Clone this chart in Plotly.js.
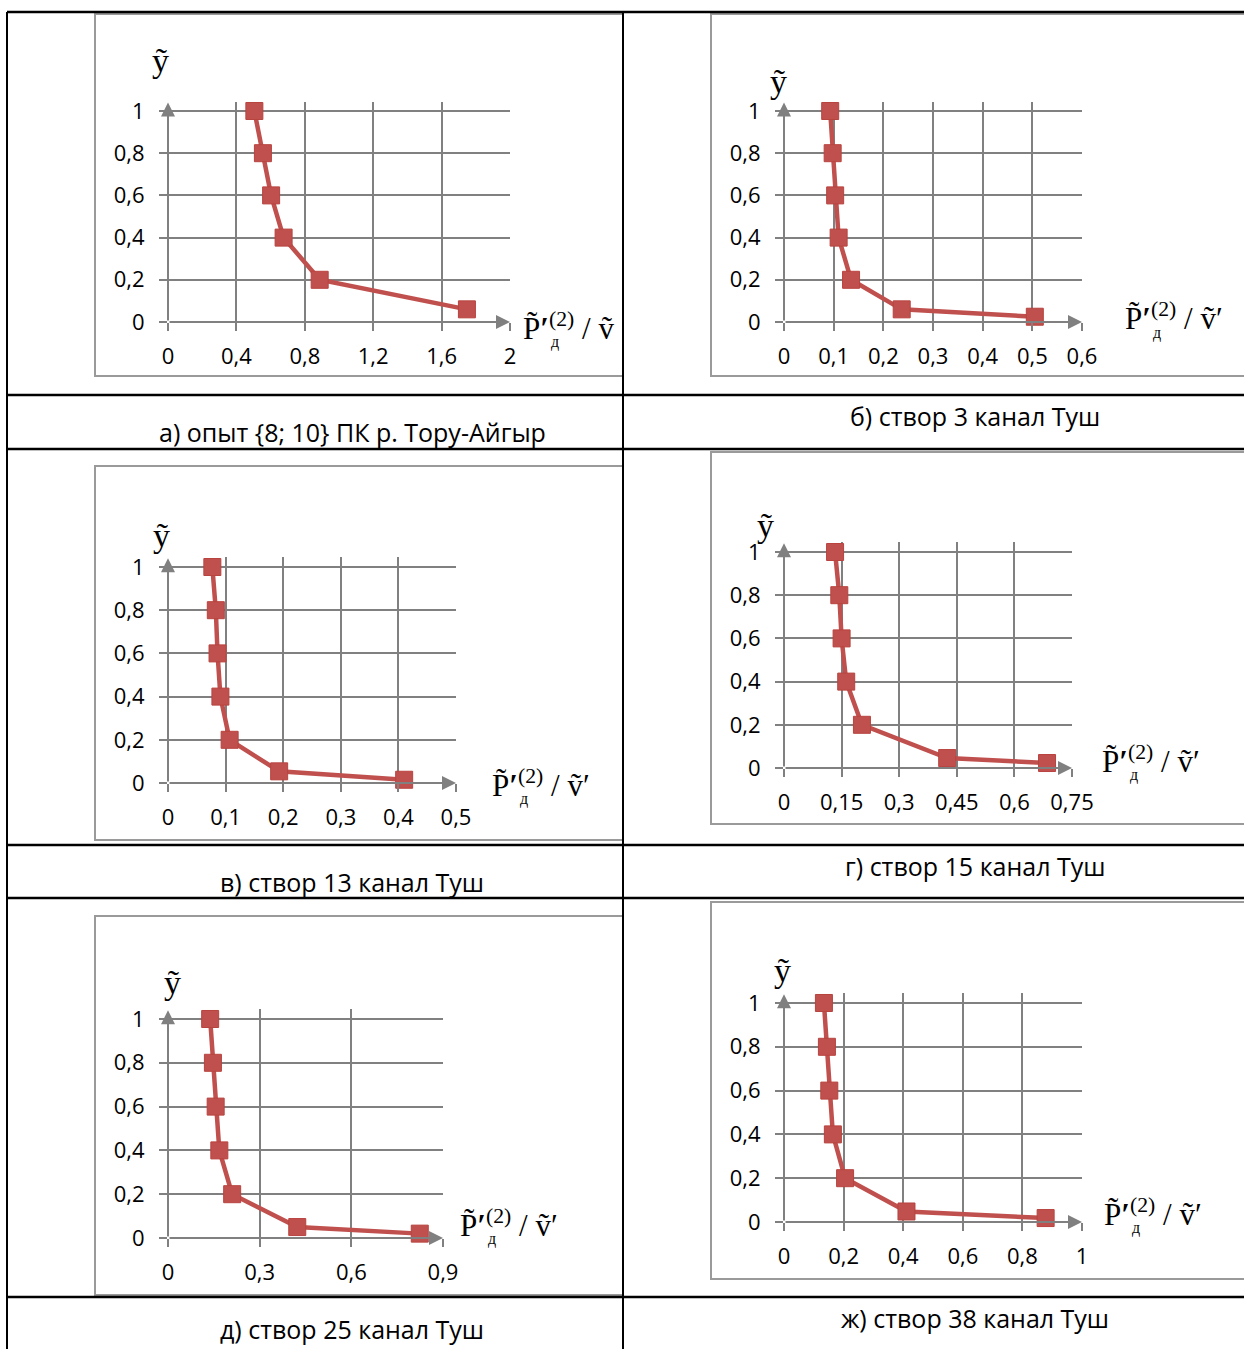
<!DOCTYPE html>
<html>
<head>
<meta charset="utf-8">
<script src="https://cdn.plot.ly/plotly-3.0.1.min.js"></script>
<style>html,body{margin:0;padding:0;background:#fff;}#chart{width:1244px;height:1349px;}</style>
</head>
<body>
<div id="chart"></div>
<script>
// ---------- DATA ----------
const yA = [1, 0.8, 0.6, 0.4, 0.2, 0.06];
const xA = [0.505, 0.555, 0.603, 0.676, 0.887, 1.748];
const yB = [1, 0.8, 0.6, 0.4, 0.2, 0.06, 0.025];
const xB = [0.093, 0.098, 0.103, 0.110, 0.135, 0.237, 0.505];
const yC = [1, 0.8, 0.6, 0.4, 0.2, 0.054, 0.015];
const xC = [0.077, 0.083, 0.086, 0.091, 0.107, 0.193, 0.41];
const yD = [1, 0.8, 0.6, 0.4, 0.2, 0.046, 0.023];
const xD = [0.133, 0.144, 0.150, 0.162, 0.203, 0.425, 0.685];
const yE = [1, 0.8, 0.6, 0.4, 0.2, 0.05, 0.02];
const xE = [0.138, 0.147, 0.156, 0.168, 0.210, 0.423, 0.824];
const yF = [1, 0.8, 0.6, 0.4, 0.2, 0.048, 0.018];
const xF = [0.134, 0.144, 0.152, 0.164, 0.205, 0.411, 0.878];

const yTickVals = [0, 0.2, 0.4, 0.6, 0.8, 1];
const yTickText = ['0', '0,2', '0,4', '0,6', '0,8', '1'];
const xTickValsA = [0, 0.4, 0.8, 1.2, 1.6, 2];
const xTickTextA = ['0', '0,4', '0,8', '1,2', '1,6', '2'];
const xTickValsB = [0, 0.1, 0.2, 0.3, 0.4, 0.5, 0.6];
const xTickTextB = ['0', '0,1', '0,2', '0,3', '0,4', '0,5', '0,6'];
const xTickValsC = [0, 0.1, 0.2, 0.3, 0.4, 0.5];
const xTickTextC = ['0', '0,1', '0,2', '0,3', '0,4', '0,5'];
const xTickValsD = [0, 0.15, 0.3, 0.45, 0.6, 0.75];
const xTickTextD = ['0', '0,15', '0,3', '0,45', '0,6', '0,75'];
const xTickValsE = [0, 0.3, 0.6, 0.9];
const xTickTextE = ['0', '0,3', '0,6', '0,9'];
const xTickValsF = [0, 0.2, 0.4, 0.6, 0.8, 1];
const xTickTextF = ['0', '0,2', '0,4', '0,6', '0,8', '1'];

const captions = [
  'а) опыт {8; 10} ПК р. Тору-Айгыр',
  'б) створ 3 канал Туш',
  'в) створ 13 канал Туш',
  'г) створ 15 канал Туш',
  'д) створ 25 канал Туш',
  'ж) створ 38 канал Туш'
];

// ---------- LAYOUT GEOMETRY (pixels) ----------
const W = 1244, H = 1349;
const panels = [
  {xs: xA, ys: yA, tv: xTickValsA, tt: xTickTextA, xmax: 2,    L: 168, R: 510,  y0: 322,  y1: 111,
   box: [95, 14, 623, 376],   cap: [352, 432], ylab: [160, 60],  xlab: [521, 326],  vPrime: false},
  {xs: xB, ys: yB, tv: xTickValsB, tt: xTickTextB, xmax: 0.6,  L: 784, R: 1082, y0: 322,  y1: 111,
   box: [711, 14, 1250, 376], cap: [975, 416], ylab: [778, 82],  xlab: [1123, 317], vPrime: true},
  {xs: xC, ys: yC, tv: xTickValsC, tt: xTickTextC, xmax: 0.5,  L: 168, R: 456,  y0: 783,  y1: 567,
   box: [95, 466, 623, 840],  cap: [352, 882], ylab: [161, 536], xlab: [490, 783],  vPrime: true},
  {xs: xD, ys: yD, tv: xTickValsD, tt: xTickTextD, xmax: 0.75, L: 784, R: 1072, y0: 768,  y1: 552,
   box: [711, 452, 1250, 824], cap: [975, 866], ylab: [766, 525], xlab: [1100, 759], vPrime: true},
  {xs: xE, ys: yE, tv: xTickValsE, tt: xTickTextE, xmax: 0.9,  L: 168, R: 443,  y0: 1238, y1: 1019,
   box: [95, 916, 623, 1295], cap: [352, 1329], ylab: [172, 982], xlab: [458, 1223], vPrime: true},
  {xs: xF, ys: yF, tv: xTickValsF, tt: xTickTextF, xmax: 1,    L: 784, R: 1082, y0: 1222, y1: 1003,
   box: [711, 902, 1250, 1279], cap: [975, 1318], ylab: [782, 970], xlab: [1102, 1212], vPrime: true}
];

const YMAX = 1.045;
const RED = '#C0504D';
const GRID = '#808080';
const tickFont = {family: '"Open Sans", "Noto Sans", sans-serif', size: 22, color: '#000'};
const serif = '"Liberation Serif", "DejaVu Serif", serif';

const px = v => v / W;
const py = v => 1 - v / H;

const traces = [];
const layout = {
  width: W, height: H,
  margin: {l: 0, r: 0, t: 0, b: 0},
  paper_bgcolor: '#fff',
  plot_bgcolor: 'rgba(0,0,0,0)',
  showlegend: false,
  shapes: [],
  annotations: []
};

panels.forEach((p, i) => {
  const n = i + 1;
  const xa = 'xaxis' + (n === 1 ? '' : n);
  const ya = 'yaxis' + (n === 1 ? '' : n);
  const xr = 'x' + (n === 1 ? '' : n);
  const yr = 'y' + (n === 1 ? '' : n);
  const yTop = p.y0 - (p.y0 - p.y1) * YMAX;

  traces.push({
    type: 'scatter', mode: 'lines+markers',
    x: p.xs, y: p.ys, xaxis: xr, yaxis: yr,
    line: {color: RED, width: 4.5},
    marker: {symbol: 'square', size: 17, color: RED, line: {color: '#B8433F', width: 1}},
    hoverinfo: 'skip', cliponaxis: false
  });

  layout[xa] = {
    domain: [px(p.L), px(p.R)], range: [0, p.xmax], anchor: yr,
    tickmode: 'array', tickvals: p.tv, ticktext: p.tt,
    showgrid: true, gridcolor: GRID, gridwidth: 2,
    zeroline: false, showline: false,
    ticks: 'outside', ticklen: 8, tickwidth: 2, tickcolor: GRID,
    tickfont: tickFont, ticklabelstandoff: 7, fixedrange: true
  };
  layout[ya] = {
    domain: [py(p.y0), py(yTop)], range: [0, YMAX], anchor: xr,
    tickmode: 'array', tickvals: yTickVals, ticktext: yTickText,
    showgrid: true, gridcolor: GRID, gridwidth: 2,
    zeroline: false, showline: false,
    ticks: 'outside', ticklen: 8, tickwidth: 2, tickcolor: GRID,
    tickfont: tickFont, ticklabelstandoff: 10, fixedrange: true
  };

  // axis arrows
  layout.annotations.push({
    x: p.xmax, y: 0, xref: xr, yref: yr, ax: 0, ay: 0, axref: xr, ayref: yr,
    showarrow: true, arrowhead: 2, arrowsize: 1.4, arrowwidth: 2, arrowcolor: GRID, text: ''
  });
  layout.annotations.push({
    x: 0, y: 1.04, xref: xr, yref: yr, ax: 0, ay: 0, axref: xr, ayref: yr,
    showarrow: true, arrowhead: 2, arrowsize: 1.4, arrowwidth: 2, arrowcolor: GRID, text: ''
  });

  // chart frame
  layout.shapes.push({
    type: 'rect', xref: 'paper', yref: 'paper',
    x0: px(p.box[0]), x1: px(p.box[2]), y0: py(p.box[3]), y1: py(p.box[1]),
    line: {color: '#9a9a9a', width: 2}, fillcolor: 'rgba(0,0,0,0)', layer: 'below'
  });

  // y label
  layout.annotations.push({
    x: px(p.ylab[0]), y: py(p.ylab[1]), xref: 'paper', yref: 'paper',
    text: 'ỹ', showarrow: false, xanchor: 'center', yanchor: 'middle',
    font: {family: serif, size: 34, color: '#000'}
  });
  // x label
  layout.annotations.push({
    x: px(p.xlab[0]), y: py(p.xlab[1]), xref: 'paper', yref: 'paper',
    text: 'P̃<b>′</b><sup>(2)</sup> / ṽ' + (p.vPrime ? '′' : ''),
    showarrow: false, xanchor: 'left', yanchor: 'middle',
    font: {family: serif, size: 31, color: '#000'}
  });
  layout.annotations.push({
    x: px(p.xlab[0] + 28), y: py(p.xlab[1] + 16), xref: 'paper', yref: 'paper',
    text: 'д', showarrow: false, xanchor: 'left', yanchor: 'middle',
    font: {family: serif, size: 16, color: '#000'}
  });
  // caption
  layout.annotations.push({
    x: px(p.cap[0]), y: py(p.cap[1]), xref: 'paper', yref: 'paper',
    text: captions[i], showarrow: false, xanchor: 'center', yanchor: 'middle',
    font: {family: '"Open Sans", "Noto Sans", sans-serif', size: 25, color: '#000'}
  });
});

// table lines
const hLines = [12, 395, 449, 845, 898, 1297];
hLines.forEach(y => layout.shapes.push({
  type: 'line', xref: 'paper', yref: 'paper', x0: px(7), x1: 1, y0: py(y), y1: py(y),
  line: {color: '#000', width: 2.5}
}));
[7, 623].forEach(x => layout.shapes.push({
  type: 'line', xref: 'paper', yref: 'paper', x0: px(x), x1: px(x), y0: py(12), y1: 0,
  line: {color: '#000', width: 2}
}));

Plotly.newPlot('chart', traces, layout, {staticPlot: true, displayModeBar: false});
</script>
</body>
</html>
